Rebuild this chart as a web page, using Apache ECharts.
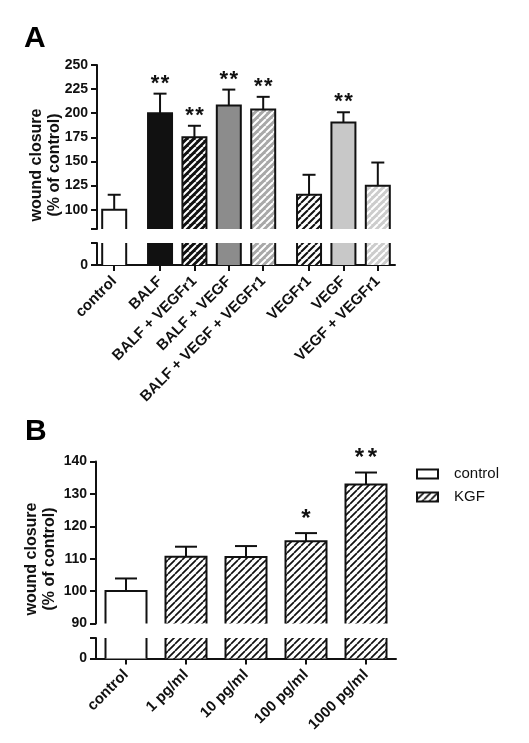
<!DOCTYPE html>
<html><head><meta charset="utf-8">
<script src="https://cdn.jsdelivr.net/npm/echarts@6/dist/echarts.min.js"></script>
<style>html,body{margin:0;padding:0;background:#fff}#c{width:529px;height:743px}</style>
</head><body><div id="c"></div><script>
// ---------- Panel A data ----------
const catA = ['control', 'BALF', 'BALF + VEGFr1', 'BALF + VEGF', 'BALF + VEGF + VEGFr1', 'VEGFr1', 'VEGF', 'VEGF + VEGFr1'];
const groupStartA = [0, 1, 5];
const valA = [100, 200, 175, 208, 204, 115.5, 190.3, 124.8];
const errA = [15.5, 20.3, 12, 16.5, 13, 20.7, 10.7, 24.1];
const sigA = ['', '**', '**', '**', '**', '', '**', ''];
const tickLabelsA = [100, 125, 150, 175, 200, 225, 250];

// ---------- Panel B data ----------
const catB = ['control', '1 pg/ml', '10 pg/ml', '100 pg/ml', '1000 pg/ml'];
const groupB = ['control', 'KGF', 'KGF', 'KGF', 'KGF'];
const valB = [100, 110.6, 110.5, 115.4, 132.9];
const errB = [3.9, 3.1, 3.4, 2.5, 3.7];
const sigB = ['', '', '', '*', '**'];
const tickLabelsB = [90, 100, 110, 120, 130, 140];

const FONT = '"Liberation Sans", Arial, sans-serif';
const INK = '#111';

function hatch(bg, fg, p, lw) {
  const c = document.createElement('canvas');
  c.width = p; c.height = p;
  const g = c.getContext('2d');
  g.fillStyle = bg; g.fillRect(0, 0, p, p);
  g.strokeStyle = fg; g.lineWidth = lw;
  g.beginPath();
  for (let k = -1; k <= 1; k++) { g.moveTo(k * p, p); g.lineTo(k * p + p, 0); }
  g.stroke();
  return { image: c, repeat: 'repeat' };
}

// slot layout for panel A (3 slots per bar, 1 extra slot before each group)
const slotA = [];
let pos = 1;
catA.forEach((c, i) => { if (i > 0 && groupStartA.includes(i)) pos += 1; slotA.push(pos); pos += 3; });
const slotsA = [];
for (let k = 0; k < pos - 1; k++) slotsA.push('#gap' + k);
slotA.forEach((s, i) => { slotsA[s] = catA[i]; });

const fillA = [
  '#ffffff', '#111111', hatch('#111111', '#ffffff', 7, 2), '#8c8c8c',
  hatch('#a8a8a8', '#ffffff', 7, 2), hatch('#ffffff', '#111111', 7, 2), '#c8c8c8', hatch('#cccccc', '#ffffff', 7, 2)
];
const hatchB = hatch('#ffffff', '#111111', 7, 1.7);
const fillB = ['#ffffff', hatchB, hatchB, hatchB, hatchB];

function makeRender(o) {
  return function (params, api) {
    const cs = params.coordSys;
    const x = api.value(0), v = api.value(1), e = api.value(2), i = api.value(3);
    const p = api.coord([x, v]);
    const cx = p[0], hw = o.bw / 2;
    const ch = [];
    if (!o.lower) {
      const yb = cs.y + cs.height, yt = p[1];
      ch.push({ type: 'rect', shape: { x: cx - hw, y: yt, width: o.bw, height: yb - yt }, style: { fill: o.fills[i], stroke: null } });
      ch.push({ type: 'polyline', shape: { points: [[cx - hw, yb], [cx - hw, yt], [cx + hw, yt], [cx + hw, yb]] }, style: { stroke: INK, lineWidth: 2, fill: null } });
      const ye = api.coord([x, v + e])[1];
      ch.push({ type: 'line', shape: { x1: cx, y1: yt, x2: cx, y2: ye }, style: { stroke: INK, lineWidth: 2 } });
      ch.push({ type: 'line', shape: { x1: cx - o.cap / 2, y1: ye, x2: cx + o.cap / 2, y2: ye }, style: { stroke: INK, lineWidth: 2 } });
      const s = o.sig[i] || '';
      const n = s.length;
      for (let k = 0; k < n; k++) {
        const dx = (k - (n - 1) / 2) * o.starStep;
        ch.push({ type: 'text', style: { text: s[k], x: cx + dx, y: ye - o.starOff, textAlign: 'center', textVerticalAlign: 'middle', font: 'bold ' + o.starFont + 'px ' + FONT, fill: INK } });
      }
    } else {
      const y0 = api.coord([x, 0])[1], yt = cs.y;
      ch.push({ type: 'rect', shape: { x: cx - hw, y: yt, width: o.bw, height: y0 - yt }, style: { fill: o.fills[i], stroke: null } });
      ch.push({ type: 'line', shape: { x1: cx - hw, y1: yt, x2: cx - hw, y2: y0 }, style: { stroke: INK, lineWidth: 2 } });
      ch.push({ type: 'line', shape: { x1: cx + hw, y1: yt, x2: cx + hw, y2: y0 }, style: { stroke: INK, lineWidth: 2 } });
    }
    return { type: 'group', children: ch };
  };
}

const dataA = catA.map((c, i) => [slotA[i], valA[i], errA[i], i]);
const dataBFor = (name) => catB.map((c, i) => [i, valB[i], errB[i], i]).filter((d, i) => groupB[i] === name);

const yLabel = { fontSize: 14, fontWeight: 'bold', color: INK, fontFamily: FONT };
const axisLn = { show: true, lineStyle: { color: INK, width: 2 } };
const tickSt = { show: true, length: 6, lineStyle: { color: INK, width: 2 } };

const xLabel = {
  interval: 0, rotate: 45, fontSize: 15, fontWeight: 'bold', color: INK, fontFamily: FONT,
  margin: 14, padding: [12, 0, 0, 0],
  formatter: (v) => (v.indexOf('#gap') === 0 ? '' : v)
};

const chart = echarts.init(document.getElementById('c'), null, { renderer: 'canvas' });
chart.setOption({
  animation: false,
  backgroundColor: '#fff',
  grid: [
    { left: 97, top: 65, width: 298, height: 164 },
    { left: 97, top: 243, width: 298, height: 22 },
    { left: 96, top: 461.5, width: 300, height: 162 },
    { left: 96, top: 638, width: 300, height: 20.5 }
  ],
  xAxis: [
    { gridIndex: 0, type: 'category', data: slotsA, show: false },
    {
      gridIndex: 1, type: 'category', data: slotsA, axisLine: axisLn,
      axisTick: { show: true, alignWithLabel: true, length: 6, interval: (i, v) => v.indexOf('#gap') !== 0, lineStyle: { color: INK, width: 2 } },
      axisLabel: xLabel
    },
    { gridIndex: 2, type: 'category', data: catB, show: false },
    {
      gridIndex: 3, type: 'category', data: catB, axisLine: axisLn,
      axisTick: { show: true, alignWithLabel: true, length: 6, lineStyle: { color: INK, width: 2 } },
      axisLabel: xLabel
    }
  ],
  yAxis: [
    { gridIndex: 0, type: 'value', min: 80, max: 250, splitLine: { show: false }, axisLine: axisLn,
      axisTick: Object.assign({ customValues: [80].concat(tickLabelsA) }, tickSt),
      axisLabel: Object.assign({ customValues: tickLabelsA, margin: 9 }, yLabel) },
    { gridIndex: 1, type: 'value', min: 0, max: 20, splitLine: { show: false }, axisLine: axisLn,
      axisTick: Object.assign({ customValues: [0, 20] }, tickSt),
      axisLabel: Object.assign({ customValues: [0], margin: 9 }, yLabel) },
    { gridIndex: 2, type: 'value', min: 90, max: 140, splitLine: { show: false }, axisLine: axisLn,
      axisTick: Object.assign({ customValues: tickLabelsB }, tickSt),
      axisLabel: Object.assign({ customValues: tickLabelsB, margin: 9 }, yLabel) },
    { gridIndex: 3, type: 'value', min: 0, max: 20, splitLine: { show: false }, axisLine: axisLn,
      axisTick: Object.assign({ customValues: [0, 20] }, tickSt),
      axisLabel: Object.assign({ customValues: [0], margin: 9 }, yLabel) }
  ],
  legend: {
    left: 416, top: 466.5, padding: 0, orient: 'vertical', itemWidth: 21, itemHeight: 9, itemGap: 8, icon: 'rect',
    selectedMode: false,
    data: [
      { name: 'control', itemStyle: { color: '#ffffff', borderColor: INK, borderWidth: 2 } },
      { name: 'KGF', itemStyle: { color: hatchB, borderColor: INK, borderWidth: 2 } }
    ],
    textStyle: { fontSize: 15, color: INK, fontFamily: FONT, padding: [0, 0, 0, 11] }
  },
  graphic: [
    { type: 'text', x: 24, y: 54, style: { text: 'A', font: 'bold 30px ' + FONT, fill: '#000', textVerticalAlign: 'bottom' } },
    { type: 'text', x: 25, y: 447, style: { text: 'B', font: 'bold 30px ' + FONT, fill: '#000', textVerticalAlign: 'bottom' } },
    { type: 'text', x: 46, y: 165, rotation: Math.PI / 2, style: { text: 'wound closure\n(% of control)', font: 'bold 16px ' + FONT, lineHeight: 18, fill: INK, textAlign: 'center', textVerticalAlign: 'middle' } },
    { type: 'text', x: 40.5, y: 559, rotation: Math.PI / 2, style: { text: 'wound closure\n(% of control)', font: 'bold 16px ' + FONT, lineHeight: 18, fill: INK, textAlign: 'center', textVerticalAlign: 'middle' } }
  ],
  series: [
    { type: 'custom', name: 'A', xAxisIndex: 0, yAxisIndex: 0, data: dataA, encode: { x: 0, y: 1 }, silent: true, clip: false,
      renderItem: makeRender({ bw: 24, cap: 13, fills: fillA, sig: sigA, starFont: 22, starOff: 10, starStep: 10 }) },
    { type: 'custom', name: 'A', xAxisIndex: 1, yAxisIndex: 1, data: dataA, encode: { x: 0, y: 1 }, silent: true, clip: false,
      renderItem: makeRender({ bw: 24, fills: fillA, lower: true }) },
    { type: 'custom', name: 'control', xAxisIndex: 2, yAxisIndex: 2, data: dataBFor('control'), encode: { x: 0, y: 1 }, silent: true, clip: false,
      renderItem: makeRender({ bw: 41, cap: 22, fills: fillB, sig: sigB, starFont: 24, starOff: 14, starStep: 13 }) },
    { type: 'custom', name: 'KGF', xAxisIndex: 2, yAxisIndex: 2, data: dataBFor('KGF'), encode: { x: 0, y: 1 }, silent: true, clip: false,
      renderItem: makeRender({ bw: 41, cap: 22, fills: fillB, sig: sigB, starFont: 24, starOff: 14, starStep: 13 }) },
    { type: 'custom', name: 'control', xAxisIndex: 3, yAxisIndex: 3, data: dataBFor('control'), encode: { x: 0, y: 1 }, silent: true, clip: false,
      renderItem: makeRender({ bw: 41, fills: fillB, lower: true }) },
    { type: 'custom', name: 'KGF', xAxisIndex: 3, yAxisIndex: 3, data: dataBFor('KGF'), encode: { x: 0, y: 1 }, silent: true, clip: false,
      renderItem: makeRender({ bw: 41, fills: fillB, lower: true }) }
  ]
});
</script></body></html>
